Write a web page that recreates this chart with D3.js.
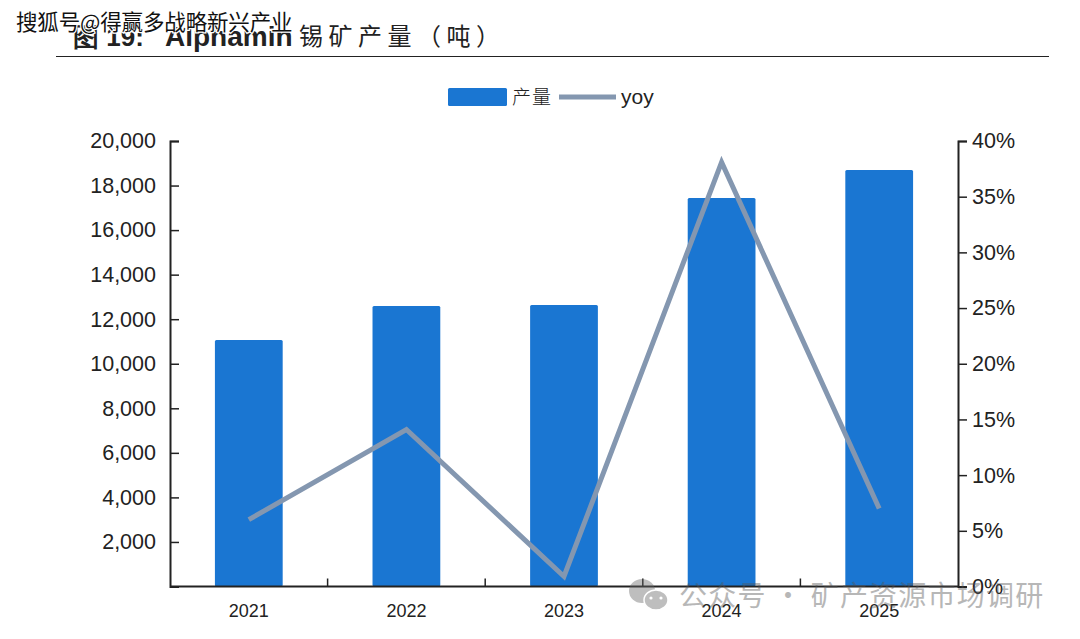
<!DOCTYPE html>
<html lang="zh">
<head>
<meta charset="utf-8">
<script src="https://cdn.jsdelivr.net/npm/d3@7/dist/d3.min.js"></script>
<style>
html,body{margin:0;padding:0;background:#fff;}
svg{display:block;}
text{font-family:"Liberation Sans",Arial,sans-serif;fill:#222;}
.cjk{font-family:"Noto Sans CJK SC",sans-serif;}
</style>
</head>
<body>
<svg id="chart" width="1080" height="639"></svg>
<script>
// Alphamin tin output and its year-on-year change
const years = ["2021", "2022", "2023", "2024", "2025"];
const output = [11070, 12590, 12640, 17440, 18700];
const yoy = [6.0, 14.1, 0.9, 38.1, 7.0];
const leftTicks = [2000, 4000, 6000, 8000, 10000, 12000, 14000, 16000, 18000, 20000];
const rightTicks = [0, 5, 10, 15, 20, 25, 30, 35, 40];

const svg = d3.select("#chart");
const plot = {left: 170, right: 958, top: 141, bottom: 586.5};

const x = d3.scaleBand().domain(years).range([plot.left, plot.right]).paddingInner(0.57).paddingOuter(0.285);
const yLeft = d3.scaleLinear().domain([0, 20000]).range([plot.bottom, plot.top]);
const yRight = d3.scaleLinear().domain([0, 40]).range([plot.bottom, plot.top]);
const center = d => x(d) + x.bandwidth() / 2;

// Heading and rule
svg.append("text").attr("x", 73).attr("y", 46).attr("font-size", 26).attr("font-weight", 700).text("图 19:");
svg.append("text").attr("x", 165).attr("y", 46).attr("font-size", 28).attr("font-weight", 700).text("Alphamin");
svg.append("text").attr("class", "cjk").attr("x", 299).attr("y", 45).attr("font-size", 24)
  .attr("letter-spacing", 5.5).text("锡矿产量（吨）");
svg.append("line").attr("x1", 56).attr("x2", 1049).attr("y1", 56.5).attr("y2", 56.5).attr("stroke", "#222").attr("stroke-width", 1);

// Source tag over the heading
svg.append("text").attr("class", "cjk").attr("x", 16).attr("y", 30).attr("font-size", 21.5)
  .style("fill", "#111").style("stroke", "#fff").style("stroke-width", 2.5).style("paint-order", "stroke")
  .attr("letter-spacing", -0.15).text("搜狐号@得赢多战略新兴产业");

// Legend
svg.append("rect").attr("x", 448).attr("y", 88).attr("width", 59).attr("height", 18).attr("rx", 1.5).attr("fill", "#1a76d2");
svg.append("text").attr("class", "cjk").attr("x", 512).attr("y", 104).attr("font-size", 19).attr("letter-spacing", 1).attr("font-weight", 300).text("产量");
svg.append("line").attr("x1", 559).attr("x2", 616).attr("y1", 97).attr("y2", 97).attr("stroke", "#8497b0").attr("stroke-width", 5);
svg.append("text").attr("x", 621).attr("y", 104).attr("font-size", 21).text("yoy");

// Bars
svg.append("g").selectAll("rect").data(years).join("rect")
  .attr("x", d => x(d))
  .attr("width", x.bandwidth())
  .attr("y", (d, i) => yLeft(output[i]))
  .attr("height", (d, i) => plot.bottom - yLeft(output[i]))
  .attr("rx", 1.5)
  .attr("fill", "#1a76d2");

// Axes
const styleAxis = g => {
  g.select(".domain").attr("stroke", "#222").attr("stroke-width", 2);
  g.selectAll(".tick line").attr("stroke", "#222").attr("stroke-width", 1.5);
};
const leftAxis = svg.append("g").attr("transform", `translate(${plot.left},0)`)
  .call(d3.axisLeft(yLeft).tickValues([0, ...leftTicks]).tickSize(-9).tickPadding(14)
    .tickFormat(d => d === 0 ? "" : d3.format(",")(d)));
leftAxis.call(styleAxis);
leftAxis.selectAll("text").attr("font-size", 21.5);

const rightAxis = svg.append("g").attr("transform", `translate(${plot.right},0)`)
  .call(d3.axisRight(yRight).tickValues(rightTicks).tickSize(9).tickPadding(5).tickFormat(d => d + "%"));
rightAxis.call(styleAxis);
rightAxis.selectAll("text").attr("font-size", 21.5);

const bottomAxis = svg.append("g").attr("transform", `translate(0,${plot.bottom})`)
  .call(d3.axisBottom(x).tickSize(0).tickPadding(18));
bottomAxis.call(styleAxis);
bottomAxis.select(".domain").attr("d", `M${plot.left},0H${plot.right}`);
bottomAxis.selectAll("text").attr("font-size", 18);

// Category separators rising from the baseline
const step = x.step();
svg.append("g").selectAll("line").data(years.slice(1)).join("line")
  .attr("x1", d => center(d) - step / 2).attr("x2", d => center(d) - step / 2)
  .attr("y1", plot.bottom - 8).attr("y2", plot.bottom)
  .attr("stroke", "#222").attr("stroke-width", 1.5);

// Year-on-year line
const line = d3.line().x(d => center(d)).y((d, i) => yRight(yoy[i]));
svg.append("path").datum(years).attr("d", line).attr("fill", "none")
  .attr("stroke", "#8497b0").attr("stroke-width", 5).attr("stroke-linejoin", "miter");

// Account watermark in the lower right
const mark = svg.append("g").attr("opacity", 0.42);
mark.append("ellipse").attr("cx", 642).attr("cy", 591).attr("rx", 13).attr("ry", 12).attr("fill", "#666");
mark.append("ellipse").attr("cx", 656).attr("cy", 600).attr("rx", 12).attr("ry", 10).attr("fill", "#666").attr("stroke", "#fff").attr("stroke-width", 1.5);
mark.append("g").selectAll("circle").data([651, 661]).join("circle")
  .attr("cx", d => d).attr("cy", 598).attr("r", 1.6).attr("fill", "#fff");
mark.append("text").attr("class", "cjk").attr("x", 679).attr("y", 606).attr("font-size", 28).style("fill", "#555").attr("letter-spacing", 1.2).text("公众号 · 矿产资源市场调研");
</script>
</body>
</html>
